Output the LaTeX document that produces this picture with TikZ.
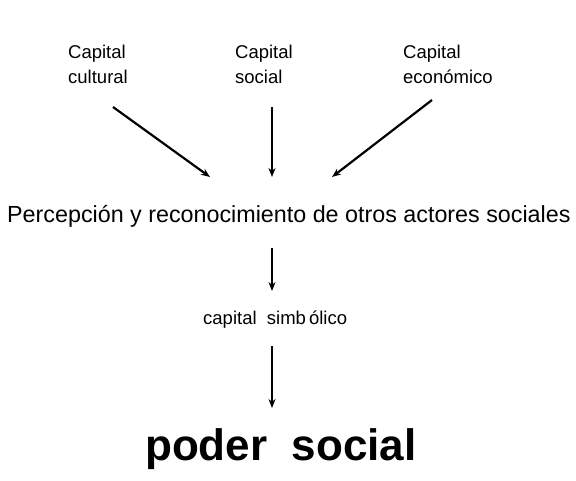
\documentclass[tikz,border=0pt]{standalone}
\usepackage{fontspec}
\setmainfont{Liberation Sans}
\usetikzlibrary{arrows.meta}

\begin{document}
\begin{tikzpicture}[x=1pt, y=-1pt, >={Stealth[length=9pt,width=7pt]},
	caplabel/.style={anchor=north west, align=left, inner sep=0pt, font=\fontsize{18.5}{25}\selectfont},
	textrow/.style={anchor=base west, inner sep=0pt}]
\useasboundingbox (0,0) rectangle (576,480);
\node[caplabel] (cult) at (68,45) {Capital\\cultural};
\node[caplabel] (soc) at (235,45) {Capital\\social};
\node[caplabel] (econ) at (403,45) {Capital\\económico};
\node[textrow, font=\fontsize{23.3}{27}\selectfont] (perc) at (7,222) {Percepción y reconocimiento de otros actores sociales};
\node[textrow, font=\fontsize{18.5}{22}\selectfont] (simb) at (203,324) {capital\ \ simb\,ólico};
\node[textrow, font=\fontsize{44}{50}\selectfont\bfseries] (poder) at (145,460) {poder\ \ social};
% arrow ends
\coordinate (c1) at (113,107); \coordinate (p1) at (210,177);
\coordinate (c2) at (272,107); \coordinate (p2) at (272,177);
\coordinate (c3) at (432,100); \coordinate (p3) at (332,177);
\coordinate (p4) at (272,248); \coordinate (s1) at (272,291);
\coordinate (s2) at (272,346); \coordinate (q1) at (272,408);
\path[->, line width=2.2pt]
(c1) edge (p1)
(c2) edge (p2)
(c3) edge (p3)
(p4) edge (s1)
(s2) edge (q1)
;
\end{tikzpicture}
\end{document}
